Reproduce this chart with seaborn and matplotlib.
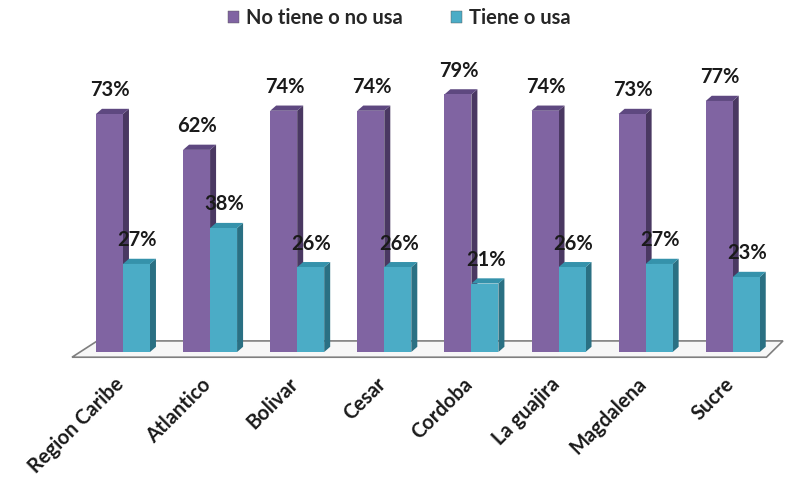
import matplotlib
matplotlib.use("Agg")
import matplotlib.pyplot as plt
from matplotlib.patches import Polygon, Patch
from matplotlib.transforms import ScaledTranslation
import seaborn as sns
import pandas as pd

categories = ["Region Caribe", "Atlantico", "Bolivar", "Cesar", "Cordoba",
              "La guajira", "Magdalena", "Sucre"]
no_tiene = [73, 62, 74, 74, 79, 74, 73, 77]
tiene = [27, 38, 26, 26, 21, 26, 27, 23]
series_names = ["No tiene o no usa", "Tiene o usa"]

df = pd.DataFrame({
    "region": categories * 2,
    "serie": [series_names[0]] * len(categories) + [series_names[1]] * len(categories),
    "valor": no_tiene + tiene,
})

sns.set_theme(style="white")
plt.rcParams["font.family"] = ["Lato", "DejaVu Sans"]

front = {series_names[0]: "#8064A2", series_names[1]: "#4BACC6"}
side = {series_names[0]: "#4A3862", series_names[1]: "#2A7083"}
top = {series_names[0]: "#5E4880", series_names[1]: "#3592AB"}

FS = 14.5

fig = plt.figure(figsize=(7.87, 4.80), dpi=100)
ax = fig.add_axes([72 / 787, 128 / 480, 711 / 787, 326 / 480])

sns.barplot(data=df, x="region", y="valor", hue="serie", palette=front,
            width=0.62, gap=0, ax=ax, legend=False, saturation=1,
            linewidth=0, zorder=3)

ax.set_xlim(-0.585, 7.577)
ax.set_ylim(0, 100)

# 3D depth
dx = 6 / 87.1
dy = 1.6
cols = [series_names[0]] * len(categories) + [series_names[1]] * len(categories)
bars = [p for p in ax.patches]
for p, s in zip(bars, cols):
    x, w, h = p.get_x(), p.get_width(), p.get_height()
    ax.add_patch(Polygon([(x + w, 0), (x + w + dx, dy), (x + w + dx, h + dy), (x + w, h)],
                         closed=True, facecolor=side[s], edgecolor="none", zorder=2, clip_on=False))
    ax.add_patch(Polygon([(x, h), (x + dx, h + dy), (x + w + dx, h + dy), (x + w, h)],
                         closed=True, facecolor=top[s], edgecolor="none", zorder=2, clip_on=False))
    ax.text(x + w / 2 + 0.01, h + 4.2, f"{int(round(h))}%", ha="center", va="bottom",
            fontsize=FS, fontweight="bold", color="#1a1a1a", zorder=5, clip_on=False)

# floor
x0, x1 = ax.get_xlim()
floor = Polygon([(x0, -1.6), (x1 - 0.19, -1.6), (x1, 3.4), (x0 + 0.29, 3.4)], closed=True,
                facecolor="#f7f7f7", edgecolor="#7f7f7f", linewidth=1.2, zorder=1, clip_on=False)
ax.add_patch(floor)

for sp in ax.spines.values():
    sp.set_visible(False)
ax.set_yticks([])
ax.set_xlabel("")
ax.set_ylabel("")
ax.tick_params(axis="x", length=0, pad=16)
ax.set_xticks(range(len(categories)))
ax.set_xticklabels(categories, rotation=45, ha="right", rotation_mode="anchor",
                   fontsize=FS, fontweight="bold", color="#1a1a1a")
shift = ScaledTranslation(-9 / 100, 0, fig.dpi_scale_trans)
for lbl in ax.get_xticklabels():
    lbl.set_transform(lbl.get_transform() + shift)

handles = [Patch(facecolor=front[s], edgecolor="#555555", linewidth=0.3) for s in series_names]
fig.legend(handles, series_names, loc="center", bbox_to_anchor=(0.507, 0.962), ncol=2,
           frameon=False, handlelength=0.55, handleheight=0.55, handletextpad=0.35,
           columnspacing=2.4, prop={"size": FS, "weight": "bold"})

fig.savefig("out.png", dpi=100)
